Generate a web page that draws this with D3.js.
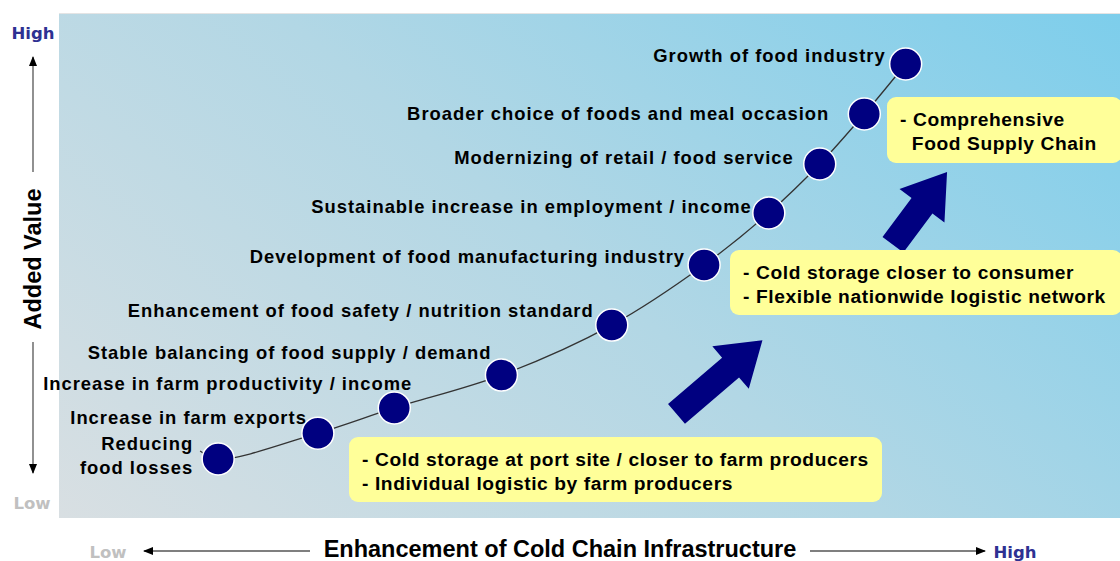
<!DOCTYPE html>
<html><head><meta charset="utf-8">
<script src="https://cdn.jsdelivr.net/npm/d3@7"></script>
<style>body{margin:0;background:#fff}svg{display:block}</style>
</head><body><svg id="c" width="1120" height="561"></svg>
<script>
// ---- data ----
const stages = ["Reducing\nfood losses","Increase in farm exports","Increase in farm productivity / income",
 "Stable balancing of food supply / demand","Enhancement of food safety / nutrition standard",
 "Development of food manufacturing industry","Sustainable increase in employment / income",
 "Modernizing of retail / food service","Broader choice of foods and meal occasion","Growth of food industry"];
const coldChain = [1.50,2.44,3.16,4.17,5.21,6.08,6.69,7.17,7.59,7.98];
const addedValue = [1.17,1.68,2.18,2.83,3.82,5.01,6.04,7.01,8.00,8.99];
const boxTexts = [
 ["- Cold storage at port site / closer to farm producers","- Individual logistic by farm producers"],
 ["- Cold storage closer to consumer","- Flexible nationwide logistic network"],
 ["- Comprehensive","  Food Supply Chain"]];
const xTickLabels = ["Low","High"];
const yTickLabels = ["Low","High"];
const xTitle = "Enhancement of Cold Chain Infrastructure";
const yTitle = "Added Value";
// arrows: [tailX, tailY, tipX, tipY] in data units
const arrowsData = [[5.82,2.06,6.63,3.52],[7.86,5.41,8.37,6.85]];

// ---- layout ----
const labelOffsets = [[-25,-15],[-11,-16],[18,-24],[-10,-23],[-18,-15],[-19,-8],[-17,-6],[-26,-6],[-35,0],[-20,-8]];
const boxes = [[349,437,533,65],[730,250,392,65],[887,97,235,66]];
const svg = d3.select("#c");
const P = {l:59,t:13,r:1120,b:518};
const x = d3.scaleLinear().domain([0,10]).range([P.l,P.r]);
const y = d3.scaleLinear().domain([0,10]).range([P.b,P.t]);

const defs = svg.append("defs");
const g = defs.append("linearGradient").attr("id","bg").attr("gradientUnits","userSpaceOnUse")
  .attr("x1",P.l+200).attr("y1",P.b+250).attr("x2",P.r-100).attr("y2",P.t-150);
g.append("stop").attr("offset","0").attr("stop-color","#dde0e2");
g.append("stop").attr("offset","0.5").attr("stop-color","#b2d7e5");
g.append("stop").attr("offset","1").attr("stop-color","#78cdec");
const mk = defs.append("marker").attr("id","ah").attr("viewBox","0 0 10 10").attr("refX",9).attr("refY",5)
  .attr("markerWidth",10).attr("markerHeight",10).attr("markerUnits","userSpaceOnUse").attr("orient","auto");
mk.append("path").attr("d","M0,1L10,5L0,9Z").attr("fill","#000");

svg.append("rect").attr("x",P.l).attr("y",P.t).attr("width",P.r-P.l).attr("height",P.b-P.t).attr("fill","url(#bg)");
svg.append("line").attr("x1",P.l).attr("x2",P.r).attr("y1",P.t+0.5).attr("y2",P.t+0.5).attr("stroke","#e4e4e4");

// curve
const pts = coldChain.map((v,i)=>[x(v),y(addedValue[i])]);
const ext = [[x(coldChain[0])-18, y(addedValue[0])-8], ...pts];
svg.append("path").attr("d",d3.line().curve(d3.curveCatmullRom)(ext)).attr("fill","none").attr("stroke","#333").attr("stroke-width",1.3);

// big arrows
function blockArrow(a){
  const [tx,ty,px,py]=[x(a[0]),y(a[1]),x(a[2]),y(a[3])];
  const L=Math.hypot(px-tx,py-ty), ux=(px-tx)/L, uy=(py-ty)/L, nx=-uy, ny=ux;
  const w=13, hw=28, hl=42, bx=px-ux*hl, by=py-uy*hl;
  return [[tx+nx*w,ty+ny*w],[bx+nx*w,by+ny*w],[bx+nx*hw,by+ny*hw],[px,py],[bx-nx*hw,by-ny*hw],[bx-nx*w,by-ny*w],[tx-nx*w,ty-ny*w]];
}
svg.selectAll(".ba").data(arrowsData).join("path").attr("class","ba")
  .attr("d",d=>"M"+blockArrow(d).join("L")+"Z").attr("fill","#000080");

// boxes
const bg = svg.selectAll(".box").data(boxes).join("g").attr("class","box");
bg.append("rect").attr("x",d=>d[0]).attr("y",d=>d[1]).attr("width",d=>d[2]).attr("height",d=>d[3]).attr("rx",9).attr("fill","#ffff99");
bg.each(function(d,i){
  const t=d3.select(this).append("text").attr("font-family","Liberation Sans, Arial, sans-serif").attr("font-weight","bold")
   .attr("font-size",19.2).attr("letter-spacing",0.6).attr("fill","#000").style("white-space","pre");
  boxTexts[i].forEach((s,j)=>t.append("tspan").attr("x",d[0]+13).attr("y",d[1]+22+j*24.5).attr("dy","0.35em").text(s));
});

// points
svg.selectAll(".pt").data(pts).join("circle").attr("cx",d=>d[0]).attr("cy",d=>d[1]).attr("r",16)
  .attr("fill","#000080").attr("stroke","#fff").attr("stroke-width",1.5);

// labels
svg.selectAll(".lb").data(stages).join("text").attr("class","lb")
  .attr("font-family","Liberation Sans, Arial, sans-serif").attr("font-weight","bold").attr("font-size",18.4)
  .attr("letter-spacing",1.0).attr("text-anchor","end").attr("fill","#000")
  .each(function(s,i){
    const lines=s.split("\n"); const t=d3.select(this);
    lines.forEach((ln,j)=>t.append("tspan").attr("x",pts[i][0]+labelOffsets[i][0]).attr("y",pts[i][1]+labelOffsets[i][1]+j*24).attr("dy","0.35em").text(ln));
  });

// axes
const ax = svg.append("g").attr("font-family","DejaVu Sans, Verdana, sans-serif").attr("font-weight","bold");
ax.append("text").attr("x",33).attr("y",33).attr("dy","0.35em").attr("text-anchor","middle").attr("font-size",16.5).attr("fill","#2e3192").text(yTickLabels[1]);
ax.append("text").attr("x",32).attr("y",503).attr("dy","0.35em").attr("text-anchor","middle").attr("font-size",16.5).attr("fill","#c0c0c0").text(yTickLabels[0]);
ax.append("text").attr("x",108).attr("y",552).attr("dy","0.35em").attr("text-anchor","middle").attr("font-size",16.5).attr("fill","#c0c0c0").text(xTickLabels[0]);
ax.append("text").attr("x",1015).attr("y",552).attr("dy","0.35em").attr("text-anchor","middle").attr("font-size",16.5).attr("fill","#2e3192").text(xTickLabels[1]);
const ln=(x1,y1,x2,y2)=>ax.append("line").attr("x1",x1).attr("y1",y1).attr("x2",x2).attr("y2",y2).attr("stroke","#555").attr("stroke-width",1.3).attr("marker-end","url(#ah)");
ln(33,172,33,57); ln(33,342,33,473); ln(310,551,144,551); ln(810,551,985,551);
ax.append("text").attr("transform","translate(41,259) rotate(-90)").attr("text-anchor","middle")
  .attr("font-family","Liberation Sans, Arial, sans-serif").attr("font-weight","bold").attr("font-size",23.5).attr("fill","#000").text(yTitle);
ax.append("text").attr("x",560).attr("y",549).attr("dy","0.35em").attr("text-anchor","middle")
  .attr("font-family","Liberation Sans, Arial, sans-serif").attr("font-weight","bold").attr("font-size",23.5).attr("fill","#000").text(xTitle);
</script></body></html>
